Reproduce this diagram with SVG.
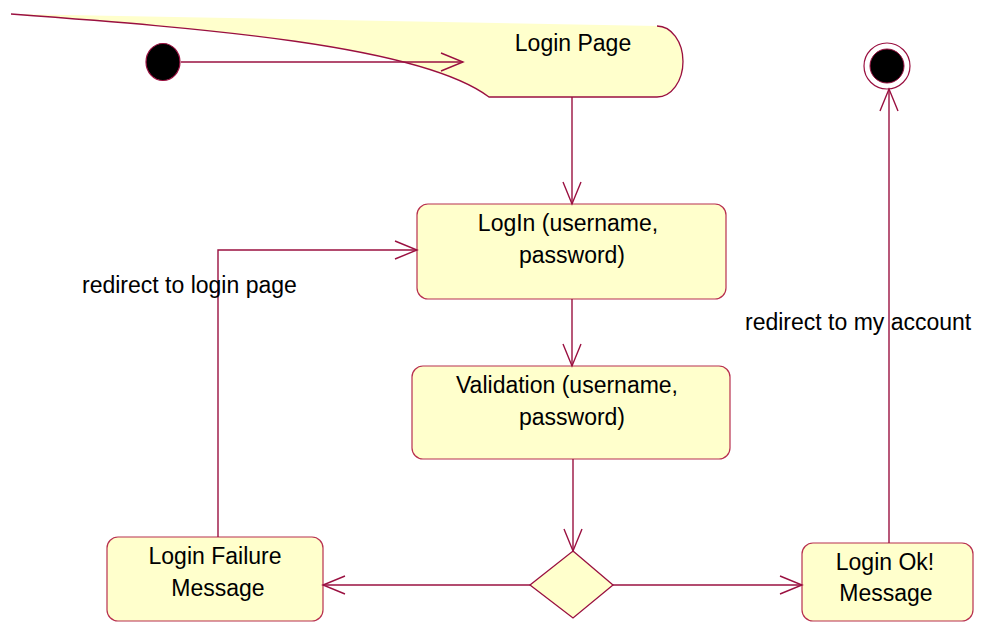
<svg xmlns="http://www.w3.org/2000/svg" width="983" height="623" viewBox="0 0 983 623">
  <defs>
    <style>
      .state { fill: #FFFFCC; stroke: #B8304F; stroke-width: 1.2; }
      .edge { fill: none; stroke: #9A1040; stroke-width: 1.4; }
      .label { font-family: "Liberation Sans", Arial, sans-serif; font-size: 23px; fill: #000; }
      .c { text-anchor: middle; }
    </style>
    <marker id="open" viewBox="-24 -11 26 22" refX="0" refY="0" markerWidth="26" markerHeight="22" markerUnits="userSpaceOnUse" orient="auto">
      <path d="M-22,-9 L0,0 L-22,9" fill="none" stroke="#9A1040" stroke-width="1.4"/>
    </marker>
  </defs>

  <rect width="983" height="623" fill="#FFFFFF"/>

  <!-- Start state -->
  <g id="start">
    <ellipse cx="163" cy="62" rx="17" ry="18.5" fill="#000" stroke="#9A1040" stroke-width="1.2"/>
  </g>

  <!-- Login Page (partially off the left edge) -->
  <g id="login-page">
    <path d="M11,14 C200,28 420,45 489,97 L657,97 A26,35.5 0 0 0 657,26 L11,14 Z" fill="#FFFFCC"/>
    <path d="M11,14 C200,28 420,45 489,97 L657,97 A26,35.5 0 0 0 657,26" fill="none" stroke="#9A1040" stroke-width="1.3"/>
    <text class="label c" x="573" y="51">Login Page</text>
  </g>

  <!-- LogIn action -->
  <g id="login">
    <rect class="state" x="417" y="204" width="309" height="95" rx="11"/>
    <text class="label c" x="568" y="231">LogIn (username,</text>
    <text class="label c" x="572" y="263">password)</text>
  </g>

  <!-- Validation action -->
  <g id="validation">
    <rect class="state" x="412" y="366" width="318" height="93" rx="11"/>
    <text class="label c" x="567" y="393">Validation (username,</text>
    <text class="label c" x="572" y="425">password)</text>
  </g>

  <!-- Decision -->
  <g id="decision">
    <polygon points="573,551 613,585 573,618 530,585" fill="#FFFFCC" stroke="#9A1040" stroke-width="1.3"/>
  </g>

  <!-- Login Failure Message -->
  <g id="failure">
    <rect class="state" x="107" y="537" width="216" height="84" rx="11"/>
    <text class="label c" x="215" y="564">Login Failure</text>
    <text class="label c" x="218" y="596">Message</text>
  </g>

  <!-- Login Ok! Message -->
  <g id="success">
    <rect class="state" x="802" y="543" width="171" height="78" rx="11"/>
    <text class="label c" x="885" y="570">Login Ok!</text>
    <text class="label c" x="886" y="601">Message</text>
  </g>

  <!-- Final state -->
  <g id="end">
    <circle cx="887" cy="66" r="23" fill="#FFFFFF" stroke="#9A1040" stroke-width="1.2"/>
    <circle cx="887" cy="66" r="17" fill="#000" stroke="#9A1040" stroke-width="1"/>
  </g>

  <!-- Transitions -->
  <g id="connectors">
    <path class="edge" d="M181,62 L463,62" marker-end="url(#open)"/>
    <path class="edge" d="M572,97 L572,204" marker-end="url(#open)"/>
    <path class="edge" d="M572,299 L572,366" marker-end="url(#open)"/>
    <path class="edge" d="M573,459 L573,551" marker-end="url(#open)"/>
    <path class="edge" d="M530,585 L323,585" marker-end="url(#open)"/>
    <path class="edge" d="M613,585 L802,585" marker-end="url(#open)"/>
    <path class="edge" d="M218,537 L218,250 L417,250" marker-end="url(#open)"/>
    <path class="edge" d="M889,543 L889,89" marker-end="url(#open)"/>
    <text class="label" x="82" y="293">redirect to login page</text>
    <text class="label" x="745" y="330">redirect to my account</text>
  </g>
</svg>
